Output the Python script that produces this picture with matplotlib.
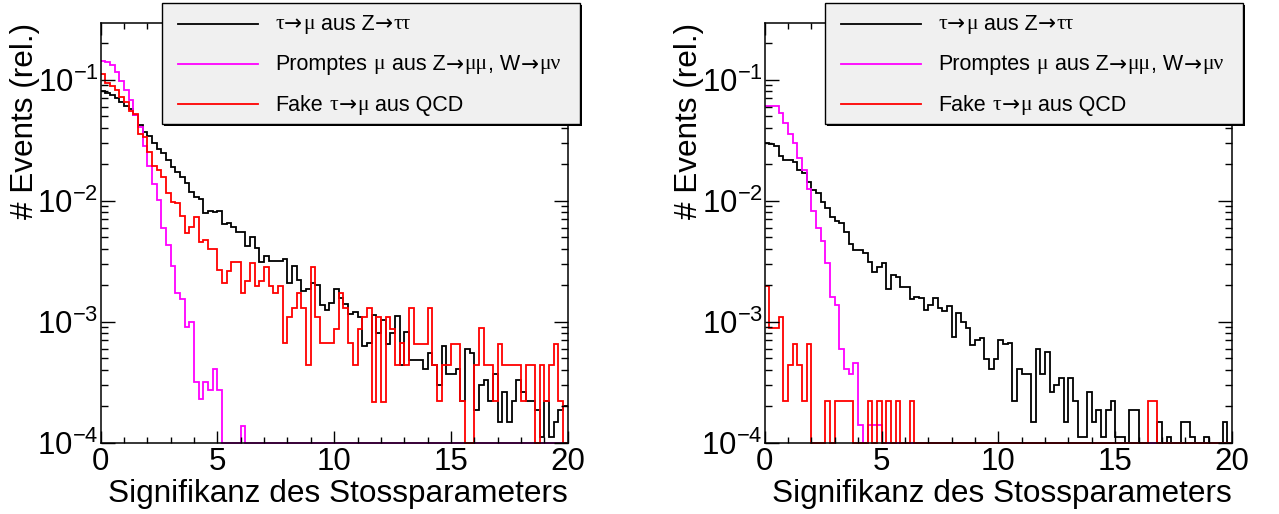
import numpy as np
import matplotlib.pyplot as plt
from matplotlib.patches import Rectangle
from matplotlib.lines import Line2D
from matplotlib.ticker import LogLocator, MultipleLocator, FuncFormatter, NullFormatter

plt.rcParams['font.family'] = ['Liberation Sans', 'DejaVu Sans']

# 100 bins of width 0.2 between 0 and 20
edges = np.linspace(0, 20, 101)

# left panel
left_tau = [
    0.080, 0.078, 0.075, 0.070, 0.066, 0.061, 0.057, 0.051, 0.042, 0.037,
    0.034, 0.030, 0.027, 0.0246, 0.0217, 0.0191, 0.0174, 0.0158, 0.0139, 0.0119,
    0.0108, 0.0104, 0.0079, 0.0083, 0.0081, 0.0083, 0.0064, 0.0065, 0.0061, 0.0055,
    0.0055, 0.0042, 0.0050, 0.0041, 0.0031, 0.0035, 0.0032, 0.0032, 0.0032, 0.0033,
    0.0021, 0.0029, 0.0022, 0.0018, 0.00185, 0.0021, 0.0020, 0.00137, 0.00125, 0.00144,
    0.00185, 0.00156, 0.00140, 0.00116, 0.00121, 0.00109, 0.00063, 0.00067, 0.00114, 0.00081,
    0.00103, 0.00066, 0.00080, 0.00111, 0.00044, 0.00082, 0.00048, 0.00048, 0.00048, 0.00041,
    0.00055, 0.00044, 0.00030, 0.00063, 0.00037, 0.00037, 0.00041, 0.00022, 0.00059, 0.00055,
    0.000186, 0.00030, 0.00033, 0.00022, 0.00037, 0.000149, 0.00026, 0.000149, 0.00022, 0.00033,
    0.00026, 0.00022, 0.00022, 0.000186, 0.000112, 0.00022, 0.000112, 0.000149, 0.000186, 0.00020,
]
left_prompt = [
    0.1436, 0.139, 0.132, 0.1164, 0.0975, 0.0822, 0.0679, 0.0511, 0.0409, 0.0283,
    0.0194, 0.0137, 0.0101, 0.0059, 0.0043, 0.00289, 0.00174, 0.00153, 0.00091, 0.00100,
    0.000319, 0.000228, 0.000319, 0.000272, 0.00041, 0.000272, 0.0, 0.0, 0.0, 0.0,
    0.000137,
] + [0.0] * 69
left_fake = [
    0.1114, 0.0933, 0.0887, 0.0822, 0.0724, 0.0658, 0.0555, 0.0520, 0.0356, 0.0338,
    0.0254, 0.0194, 0.0179, 0.0158, 0.0116, 0.0098, 0.0096, 0.0075, 0.0054, 0.0061,
    0.0073, 0.0046, 0.0047, 0.0040, 0.0040, 0.0027, 0.0021, 0.0026, 0.0031, 0.0031,
    0.00174, 0.00218, 0.00303, 0.00197, 0.00218, 0.00285, 0.00197, 0.00174, 0.00197, 0.000662,
    0.00109, 0.00131, 0.00174, 0.00131, 0.000438, 0.00285, 0.00109, 0.000662, 0.000662, 0.000662,
    0.000865, 0.00174, 0.00131, 0.000662, 0.000438, 0.000865, 0.00109, 0.00131, 0.000218, 0.00109,
    0.000218, 0.00109, 0.000865, 0.000438, 0.000662, 0.00044, 0.00131, 0.00065, 0.00065, 0.00065,
    0.00131, 0.00044, 0.00022, 0.00044, 0.00044, 0.00065, 0.00065, 0.00022, 0.0, 0.0,
    0.00044, 0.00088, 0.00044, 0.00044, 0.00022, 0.00065, 0.00044, 0.00044, 0.00044, 0.00044,
    0.00022, 0.00044, 0.00044, 0.0, 0.00044, 0.00022, 0.00044, 0.00065, 0.00022, 0.0,
]

# right panel
right_tau = [
    0.0301, 0.0294, 0.0283, 0.0234, 0.0217, 0.0217, 0.0210, 0.0179, 0.0170, 0.0144,
    0.0122, 0.0116, 0.0098, 0.00865, 0.00738, 0.00684, 0.00658, 0.00555, 0.00439, 0.00391,
    0.00391, 0.00367, 0.00313, 0.00259, 0.00285, 0.00303, 0.00188, 0.00243, 0.00232, 0.00195,
    0.00195, 0.00153, 0.00161, 0.00156, 0.00126, 0.00137, 0.00156, 0.00129, 0.00122, 0.00135,
    0.00075, 0.00117, 0.00100, 0.00088, 0.00064, 0.00070, 0.00074, 0.00049, 0.00041, 0.00049,
    0.00071, 0.00066, 0.00067, 0.00022, 0.00041, 0.00037, 0.00037, 0.000149, 0.00059, 0.00037,
    0.00056, 0.00026, 0.00030, 0.00034, 0.000149, 0.00034, 0.00022, 0.000112, 0.000112, 0.00026,
    0.000149, 0.000186, 0.000112, 0.000186, 0.00022, 0.000112, 0.000112, 0.0, 0.000186, 0.000186,
    0.0, 0.0, 0.0, 0.0, 0.000149, 0.0, 0.000112, 0.0, 0.0, 0.000149,
    0.000149, 0.000112, 0.0, 0.0, 0.000112, 0.0, 0.0, 0.0, 0.000149, 0.0,
]
right_prompt = [
    0.0606, 0.0606, 0.0606, 0.0534, 0.0441, 0.0356, 0.0301, 0.0224, 0.0179, 0.0126,
    0.00826, 0.0059, 0.00467, 0.00303, 0.00161, 0.00137, 0.00059, 0.00041, 0.00037, 0.00046,
    0.00014, 0.0, 0.00014, 0.00014, 0.00014,
] + [0.0] * 75
right_fake = [
    0.00197, 0.00088, 0.00088, 0.0011, 0.00022, 0.00044, 0.00066, 0.00044, 0.00022, 0.00066,
    0.0, 0.0, 0.0, 0.00022, 0.0, 0.00022, 0.00022, 0.00022, 0.00022, 0.0,
    0.0, 0.0, 0.00022, 0.0, 0.00022, 0.0, 0.00022, 0.0, 0.00022, 0.0,
    0.0, 0.00022,
] + [0.0] * 50 + [0.00022, 0.00022] + [0.0] * 16

# legend entries, split so greek letters and arrows get a symbol-like face
SANS, GREEK, ARROW = 'Liberation Sans', 'Liberation Serif', 'DejaVu Sans'
labels = [
    [('τ', GREEK), ('→', ARROW), ('μ', GREEK), (' aus Z', SANS), ('→', ARROW), ('ττ', GREEK)],
    [('Promptes ', SANS), ('μ', GREEK), (' aus Z', SANS), ('→', ARROW), ('μμ', GREEK),
     (', W', SANS), ('→', ARROW), ('μν', GREEK)],
    [('Fake ', SANS), ('τ', GREEK), ('→', ARROW), ('μ', GREEK), (' aus QCD', SANS)],
]
colors = ['#000000', '#ff00ff', '#ff0000']

YMIN, YMAX = 1e-4, 0.296
W, H = 1279, 514
LEG_FS = 15.5

fig = plt.figure(figsize=(W / 100, H / 100), dpi=100)
renderer = fig.canvas.get_renderer()


def fpx(x, y):
    # pixel position (from top left) -> figure fraction
    return x / W, 1 - y / H


def put_label(x, y, parts):
    space = 0.278 * LEG_FS * 100 / 72
    for txt, fam in parts:
        lead = len(txt) - len(txt.lstrip(' '))
        trail = len(txt) - len(txt.rstrip(' '))
        x += lead * space
        core = txt.strip(' ')
        xt, yt = fpx(x, y)
        t = fig.text(xt, yt, core, family=fam, fontsize=LEG_FS, va='center', ha='left', zorder=12)
        x += t.get_window_extent(renderer).width + 0.6
        x += trail * space


def draw_legend(x0):
    left, top, right, bottom = x0, 3, x0 + 418, 124
    sx, sy = fpx(left + 2, bottom + 2)
    shadow = Rectangle((sx, sy), (right - left) / W, (bottom - top) / H,
                       transform=fig.transFigure, facecolor='black', edgecolor='black',
                       lw=0, zorder=10)
    bx, by = fpx(left, bottom)
    box = Rectangle((bx, by), (right - left) / W, (bottom - top) / H,
                    transform=fig.transFigure, facecolor='#f0f0f0', edgecolor='black',
                    lw=1.0, zorder=11)
    fig.add_artist(shadow)
    fig.add_artist(box)
    for i, (parts, c) in enumerate(zip(labels, colors)):
        yy = 23.5 + 40.3 * i
        xa, ya = fpx(left + 16, yy)
        xb, _ = fpx(left + 96, yy)
        fig.add_artist(Line2D([xa, xb], [ya, ya], transform=fig.transFigure,
                              color=c, lw=1.3, zorder=12))
        put_label(left + 113, yy + 1, parts)


def draw_panel(x_left, series, legend_x):
    ax = fig.add_axes([x_left / W, 1 - 442.7 / H, 467.3 / W, 420 / H])
    for vals, c in zip(series, colors):
        v = np.clip(np.asarray(vals, dtype=float), YMIN, None)
        ax.stairs(v, edges, baseline=None, color=c, lw=1.3, clip_on=False)
    ax.set_yscale('log')
    ax.set_xlim(0, 20)
    ax.set_ylim(YMIN, YMAX)

    ax.xaxis.set_major_locator(MultipleLocator(5))
    ax.xaxis.set_minor_locator(MultipleLocator(1))
    ax.yaxis.set_major_locator(LogLocator(base=10, numticks=10))
    ax.yaxis.set_minor_locator(LogLocator(base=10, subs=np.arange(2, 10), numticks=20))
    ax.yaxis.set_major_formatter(
        FuncFormatter(lambda v, p: r'$\mathregular{10^{%d}}$' % round(np.log10(v))))
    ax.yaxis.set_minor_formatter(NullFormatter())

    ax.tick_params(axis='both', which='both', direction='in', top=True, right=True,
                   labelsize=22.5, width=1.0)
    ax.tick_params(axis='x', which='major', length=8.5, pad=3)
    ax.tick_params(axis='x', which='minor', length=4.3)
    ax.tick_params(axis='y', which='major', length=10, pad=1.5)
    ax.tick_params(axis='y', which='minor', length=5)
    for sp in ax.spines.values():
        sp.set_linewidth(1.1)

    ax.set_xlabel('Signifikanz des Stossparameters', fontsize=22.7, loc='right')
    ax.xaxis.set_label_coords(1.0, -0.087)
    ax.set_ylabel('# Events (rel.)', fontsize=22.7, loc='top')
    ax.yaxis.set_label_coords(-0.13, 1.0)

    draw_legend(legend_x)
    return ax


draw_panel(100.5, [left_tau, left_prompt, left_fake], 162)
draw_panel(764.7, [right_tau, right_prompt, right_fake], 825)

fig.savefig('out.png', dpi=100)
